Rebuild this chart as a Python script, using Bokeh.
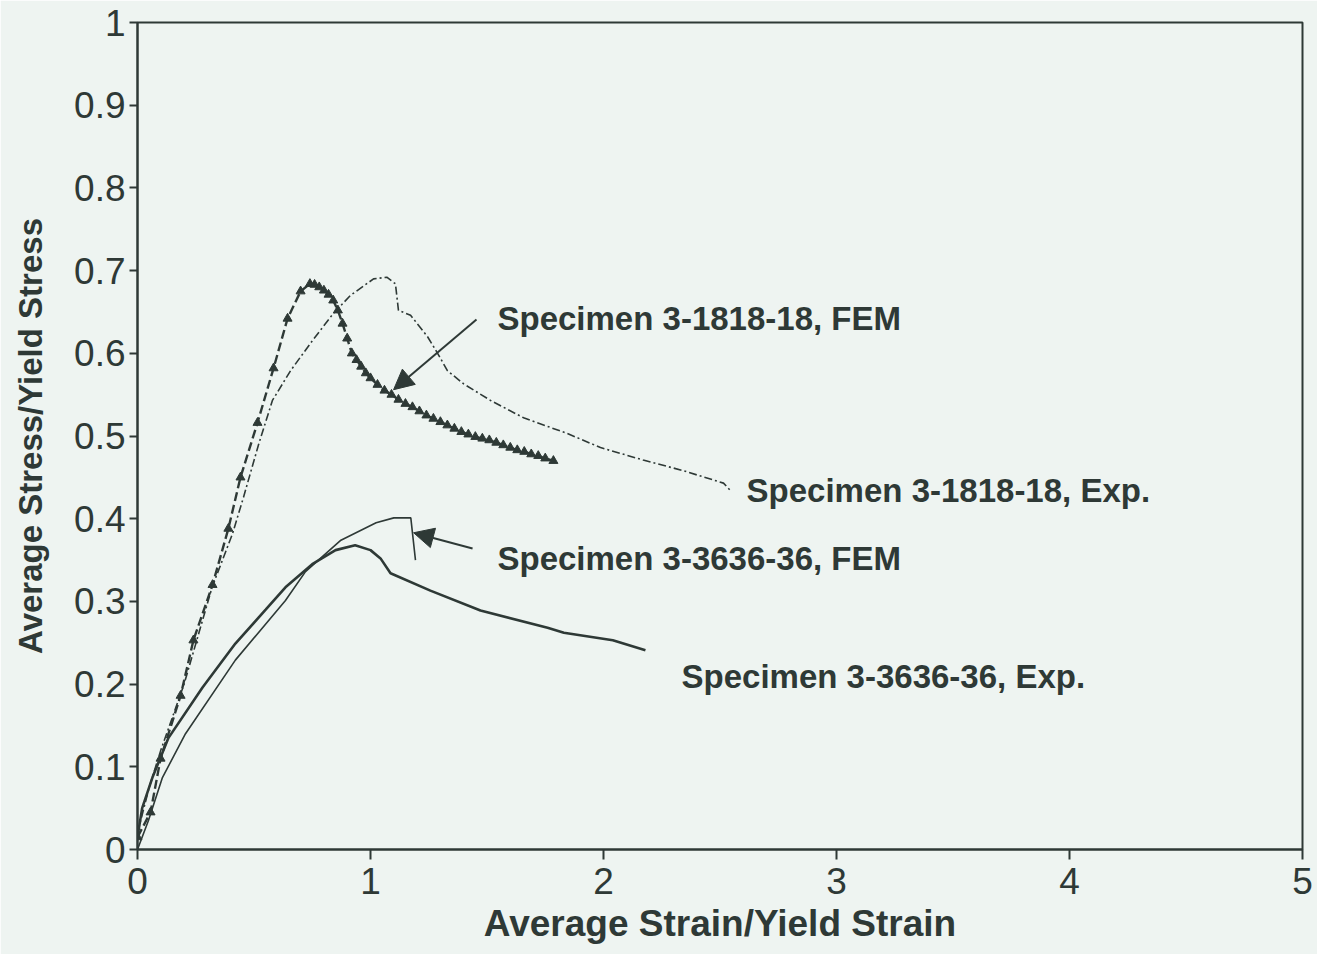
from bokeh.plotting import figure
from bokeh.models import Range1d, Arrow, NormalHead, FixedTicker
from bokeh.core.properties import value
from bokeh.embed import file_html
from bokeh.resources import INLINE

# ---- data ----
fem1818_x = [0.0, 0.056, 0.099, 0.185, 0.24, 0.322, 0.39, 0.442, 0.515, 0.584, 0.644, 0.70, 0.74,
             0.76, 0.78, 0.80, 0.82, 0.84, 0.86, 0.88, 0.90, 0.92, 0.94, 0.96, 0.98, 1.00, 1.03, 1.06,
             1.09, 1.12, 1.15, 1.18, 1.21, 1.24, 1.27, 1.30, 1.33, 1.36, 1.39, 1.42, 1.45, 1.48, 1.51,
             1.54, 1.57, 1.60, 1.63, 1.66, 1.69, 1.72, 1.75, 1.785]
fem1818_y = [0.015, 0.045, 0.11, 0.186, 0.253, 0.32, 0.388, 0.45, 0.516, 0.582, 0.642, 0.675, 0.684,
             0.683, 0.680, 0.676, 0.671, 0.664, 0.652, 0.636, 0.618, 0.600, 0.592, 0.584, 0.576, 0.570,
             0.562, 0.555, 0.550, 0.544, 0.539, 0.535, 0.530, 0.525, 0.521, 0.517, 0.513, 0.509, 0.505,
             0.502, 0.499, 0.497, 0.495, 0.492, 0.489, 0.486, 0.483, 0.481, 0.478, 0.476, 0.473, 0.470]

exp1818_x = [0.0, 0.05, 0.1, 0.2, 0.32, 0.408, 0.455, 0.52, 0.579, 0.657, 0.75, 0.84, 0.914, 1.013,
             1.07, 1.107, 1.12, 1.172, 1.245, 1.288, 1.33, 1.40, 1.515, 1.657, 1.845, 1.987, 2.17,
             2.343, 2.515, 2.545]
exp1818_y = [0.02, 0.075, 0.12, 0.2, 0.317, 0.382, 0.426, 0.49, 0.543, 0.579, 0.615, 0.648, 0.67, 0.69,
             0.692, 0.684, 0.652, 0.646, 0.62, 0.60, 0.579, 0.563, 0.543, 0.522, 0.503, 0.486, 0.471,
             0.458, 0.443, 0.434]

fem3636_x = [0.0, 0.047, 0.107, 0.206, 0.42, 0.635, 0.721, 0.873, 1.024, 1.10, 1.173, 1.193]
fem3636_y = [0.0, 0.035, 0.087, 0.14, 0.229, 0.301, 0.336, 0.374, 0.395, 0.401, 0.401, 0.35]

exp3636_x = [0.0, 0.02, 0.064, 0.133, 0.279, 0.42, 0.55, 0.635, 0.75, 0.85, 0.934, 1.0, 1.043, 1.086,
             1.257, 1.472, 1.76, 1.83, 2.04, 2.18]
exp3636_y = [0.015, 0.05, 0.087, 0.135, 0.196, 0.249, 0.29, 0.317, 0.345, 0.362, 0.368, 0.362, 0.352,
             0.334, 0.313, 0.289, 0.268, 0.262, 0.253, 0.241]

x_ticks = [0, 1, 2, 3, 4, 5]
y_ticks = [0, 0.1, 0.2, 0.3, 0.4, 0.5, 0.6, 0.7, 0.8, 0.9, 1.0]
y_tick_labels = ["0", "0.1", "0.2", "0.3", "0.4", "0.5", "0.6", "0.7", "0.8", "0.9", "1"]

label_texts = ["Specimen 3-1818-18, FEM", "Specimen 3-3636-36, FEM",
               "Specimen 3-1818-18, Exp.", "Specimen 3-3636-36, Exp."]
label_x = [1.545, 1.545, 2.614, 2.335]
label_y = [0.642, 0.352, 0.434, 0.209]

arrow_tails = [(1.455, 0.641), (1.438, 0.364)]
arrow_tips = [(1.099, 0.556), (1.185, 0.383)]

# ---- style ----
BG = "#eef4f1"
INK = "#2e3936"
FONT = "Liberation Sans"

p = figure(width=1317, height=954, output_backend="svg", toolbar_location=None,
           x_range=Range1d(0, 5), y_range=Range1d(0, 1),
           min_border_left=137, min_border_right=15, min_border_top=22, min_border_bottom=105,
           background_fill_color=BG, border_fill_color=BG)
p.grid.visible = False
p.outline_line_color = INK
p.outline_line_width = 2

for ax in (p.xaxis[0], p.yaxis[0]):
    ax.axis_line_color = INK
    ax.axis_line_width = 2
    ax.major_tick_line_color = INK
    ax.major_tick_line_width = 2
    ax.major_tick_in = 0
    ax.minor_tick_line_color = None
    ax.major_label_text_font = FONT
    ax.major_label_text_font_size = "37px"
    ax.major_label_text_color = INK
    ax.axis_label_text_font = FONT
    ax.axis_label_text_font_style = "bold"
    ax.axis_label_text_color = INK

p.xaxis.ticker = FixedTicker(ticks=x_ticks)
p.xaxis.major_tick_out = 10
p.xaxis.major_label_standoff = 8
p.xaxis.axis_label = "Average Strain/Yield Strain"
p.xaxis.axis_label_text_font_size = "37px"
p.xaxis.axis_label_standoff = 6

p.yaxis.ticker = FixedTicker(ticks=y_ticks)
p.yaxis.major_label_overrides = {t: l for t, l in zip(y_ticks, y_tick_labels)}
p.yaxis.major_tick_out = 8
p.yaxis.major_label_standoff = 4
p.yaxis.axis_label = "Average Stress/Yield Stress"
p.yaxis.axis_label_text_font_size = "33px"
p.yaxis.axis_label_standoff = 22

# ---- series ----
p.line(exp1818_x, exp1818_y, line_color=INK, line_width=1.6, line_dash="8 3 2 3")
p.line(fem1818_x, fem1818_y, line_color=INK, line_width=2.4, line_dash="9 4")
p.scatter(fem1818_x, fem1818_y, marker="triangle", size=9, fill_color=INK, line_color=INK)
p.line(fem3636_x, fem3636_y, line_color=INK, line_width=1.6)
p.line(exp3636_x, exp3636_y, line_color=INK, line_width=2.6)

# ---- annotations ----
p.text(x=label_x, y=label_y, text=label_texts, text_font=value(FONT), text_font_style="bold",
       text_font_size="33px", text_color=INK, text_baseline="middle", text_align="left")

for (xs, ys), (xe, ye) in zip(arrow_tails, arrow_tips):
    p.add_layout(Arrow(end=NormalHead(size=20, fill_color=INK, line_color=INK),
                       x_start=xs, y_start=ys, x_end=xe, y_end=ye,
                       line_color=INK, line_width=2))

open("out.html", "w").write(file_html(p, INLINE))
